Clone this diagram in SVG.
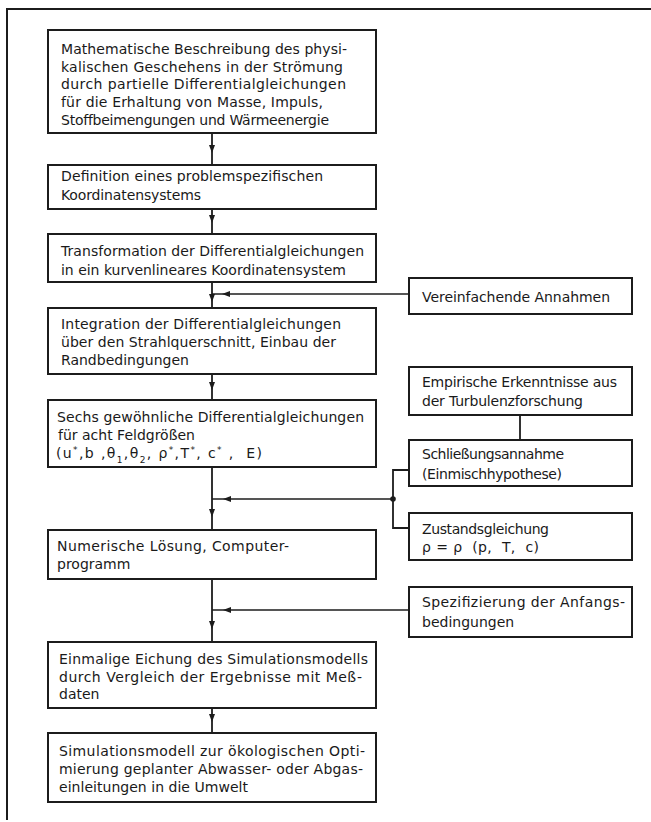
<svg xmlns="http://www.w3.org/2000/svg" width="651" height="822" viewBox="0 0 651 822">
<style>
  .box { fill: #ffffff; stroke: #1c1c1c; stroke-width: 2; }
  .frame { fill: none; stroke: #1c1c1c; stroke-width: 2; }
  .conn { fill: none; stroke: #1c1c1c; stroke-width: 1.8; }
  .hconn { fill: none; stroke: #1c1c1c; stroke-width: 1.4; }
  text { font-family: "DejaVu Sans", "Liberation Sans", sans-serif; font-size: 14px; fill: #1a1a1a; }
  .sup { font-size: 9px; }
</style>
<defs>
  <marker id="arr" viewBox="0 0 8 6" refX="8" refY="3" markerWidth="8" markerHeight="6" markerUnits="userSpaceOnUse" orient="auto">
    <path d="M0,0 L8,3 L0,6 Z" fill="#1c1c1c"/>
  </marker>
</defs>
<rect width="651" height="822" fill="#ffffff"/>
<g id="frame">
  <path class="frame" d="M6,9 H651 M7,9 V820"/>
</g>
<g id="connectors">
  <path class="conn" d="M212,133 V153 V165" marker-mid="url(#arr)"/>
  <path class="conn" d="M212,209 V223 V234" marker-mid="url(#arr)"/>
  <path class="conn" d="M212,282 V302 V308" marker-mid="url(#arr)"/>
  <path class="conn" d="M212,374 V390 V400" marker-mid="url(#arr)"/>
  <path class="conn" d="M212,467 V517 V530" marker-mid="url(#arr)"/>
  <path class="conn" d="M212,579 V629 V642" marker-mid="url(#arr)"/>
  <path class="conn" d="M212,708 V722 V733" marker-mid="url(#arr)"/>
  <path class="hconn" d="M409,294 H222 H212" marker-mid="url(#arr)"/>
  <path class="hconn" d="M393,499 H223 H212" marker-mid="url(#arr)"/>
  <path class="hconn" d="M410,610 H223 H212" marker-mid="url(#arr)"/>
  <path class="conn" d="M520,415 V440"/>
  <path class="conn" d="M409,470 H393 V528 H409"/>
  <circle cx="393" cy="499" r="2.8" fill="#1c1c1c"/>
</g>
<g id="n1">
  <rect class="box" x="48" y="30" width="328" height="103"/>
  <text x="61" y="54" textLength="286">Mathematische Beschreibung des physi-</text>
  <text x="61" y="72" textLength="282">kalischen Geschehens in der Strömung</text>
  <text x="61" y="89" textLength="285">durch partielle Differentialgleichungen</text>
  <text x="61" y="107" textLength="262">für die Erhaltung von Masse, Impuls,</text>
  <text x="61" y="125" textLength="268">Stoffbeimengungen und Wärmeenergie</text>
</g>
<g id="n2">
  <rect class="box" x="48" y="165" width="328" height="44"/>
  <text x="61" y="181" textLength="262">Definition eines problemspezifischen</text>
  <text x="61" y="200" textLength="140">Koordinatensystems</text>
</g>
<g id="n3">
  <rect class="box" x="48" y="234" width="328" height="48"/>
  <text x="61" y="256" textLength="303">Transformation der Differentialgleichungen</text>
  <text x="61" y="275" textLength="285">in ein kurvenlineares Koordinatensystem</text>
</g>
<g id="n4">
  <rect class="box" x="48" y="308" width="328" height="66"/>
  <text x="61" y="329" textLength="280">Integration der Differentialgleichungen</text>
  <text x="61" y="347" textLength="275">über den Strahlquerschnitt, Einbau der</text>
  <text x="61" y="365">Randbedingungen</text>
</g>
<g id="n5">
  <rect class="box" x="48" y="400" width="328" height="67"/>
  <text x="57" y="422" textLength="307">Sechs gewöhnliche Differentialgleichungen</text>
  <text x="58" y="440">für acht Feldgrößen</text>
  <text x="56" y="458" textLength="206" style="white-space:pre">(u<tspan class="sup" baseline-shift="super">*</tspan>,b ,θ<tspan class="sup" baseline-shift="sub">1</tspan>,θ<tspan class="sup" baseline-shift="sub">2</tspan>, ρ<tspan class="sup" baseline-shift="super">*</tspan>,T<tspan class="sup" baseline-shift="super">*</tspan>, c<tspan class="sup" baseline-shift="super">*</tspan> ,  E)</text>
</g>
<g id="n6">
  <rect class="box" x="48" y="530" width="328" height="49"/>
  <text x="57" y="551" textLength="232">Numerische Lösung, Computer-</text>
  <text x="57" y="569">programm</text>
</g>
<g id="n7">
  <rect class="box" x="48" y="642" width="328" height="66"/>
  <text x="59" y="664" textLength="309">Einmalige Eichung des Simulationsmodells</text>
  <text x="59" y="682" textLength="303">durch Vergleich der Ergebnisse mit Meß-</text>
  <text x="59" y="699">daten</text>
</g>
<g id="n8">
  <rect class="box" x="48" y="733" width="328" height="69"/>
  <text x="59" y="756" textLength="306">Simulationsmodell zur ökologischen Opti-</text>
  <text x="59" y="774" textLength="304">mierung geplanter Abwasser- oder Abgas-</text>
  <text x="59" y="792" textLength="189">einleitungen in die Umwelt</text>
</g>
<g id="r1">
  <rect class="box" x="409" y="278" width="223" height="36"/>
  <text x="422" y="302" textLength="188">Vereinfachende Annahmen</text>
</g>
<g id="r2">
  <rect class="box" x="409" y="367" width="223" height="48"/>
  <text x="422" y="387" textLength="195">Empirische Erkenntnisse aus</text>
  <text x="422" y="406" textLength="161">der Turbulenzforschung</text>
</g>
<g id="r3">
  <rect class="box" x="409" y="440" width="223" height="46"/>
  <text x="422" y="459" textLength="142">Schließungsannahme</text>
  <text x="422" y="479" textLength="140">(Einmischhypothese)</text>
</g>
<g id="r4">
  <rect class="box" x="409" y="513" width="223" height="47"/>
  <text x="422" y="534" textLength="127">Zustandsgleichung</text>
  <text x="422" y="552" textLength="117" style="white-space:pre">ρ = ρ  (p,  T,  c)</text>
</g>
<g id="r5">
  <rect class="box" x="409" y="587" width="223" height="50"/>
  <text x="422" y="607" textLength="203">Spezifizierung der Anfangs-</text>
  <text x="422" y="627">bedingungen</text>
</g>
</svg>
